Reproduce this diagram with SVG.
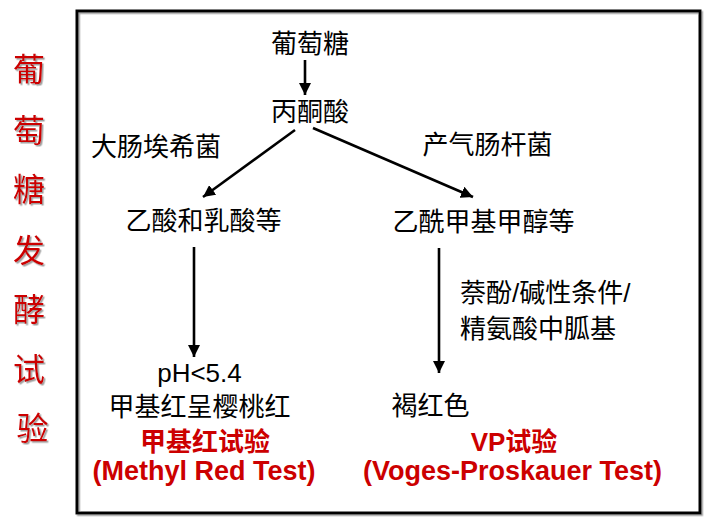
<svg xmlns="http://www.w3.org/2000/svg" width="724" height="524" viewBox="0 0 724 524">
  <defs>
    <style>
      .cn { font-family: "Noto Sans CJK SC", "Liberation Sans", sans-serif; font-size: 26px; fill: #000; }
      .lat { font-family: "Liberation Sans", "Noto Sans CJK SC", sans-serif; font-size: 26px; fill: #000; }
      .redcn { font-family: "Noto Sans CJK SC", "Liberation Sans", sans-serif; font-size: 26px; font-weight: bold; fill: #CC0000; }
      .redlat { font-family: "Liberation Sans", "Noto Sans CJK SC", sans-serif; font-size: 27px; font-weight: bold; fill: #CC0000; }
      .title { font-family: "Noto Sans CJK SC", sans-serif; font-size: 32px; fill: #CC0000; }
      .conn { stroke: #000; stroke-width: 2.6; fill: none; }
    </style>
    <marker id="arr" viewBox="0 0 10 10" refX="10" refY="5" markerWidth="12" markerHeight="12" markerUnits="userSpaceOnUse" orient="auto">
      <path d="M0,0 L10,5 L0,10 z" fill="#000"/>
    </marker>
    <filter id="sh" x="-20%" y="-20%" width="140%" height="140%">
      <feDropShadow dx="1.5" dy="1.5" stdDeviation="0.6" flood-color="#888" flood-opacity="0.8"/>
    </filter>
  </defs>
  <rect width="724" height="524" fill="#fff"/>

  <g id="frame">
    <rect x="77" y="11" width="623" height="502" fill="none" stroke="#000" stroke-width="3" filter="url(#sh)"/>
  </g>

  <g id="title">
    <text class="title" text-anchor="middle" filter="url(#sh)">
      <tspan x="32.5" y="81">葡</tspan>
      <tspan x="32.5" y="142">萄</tspan>
      <tspan x="32.5" y="201">糖</tspan>
      <tspan x="32.5" y="262">发</tspan>
      <tspan x="32.5" y="321">酵</tspan>
      <tspan x="32.5" y="381">试</tspan>
      <tspan x="32.5" y="440">验</tspan>
    </text>
  </g>

  <g id="connectors">
    <line class="conn" x1="305" y1="60" x2="305" y2="95" marker-end="url(#arr)"/>
    <line class="conn" x1="295" y1="130" x2="203" y2="197" marker-end="url(#arr)"/>
    <line class="conn" x1="313" y1="128" x2="473" y2="197" marker-end="url(#arr)"/>
    <line class="conn" x1="194" y1="247" x2="194" y2="357" marker-end="url(#arr)"/>
    <line class="conn" x1="439" y1="248" x2="439" y2="373" marker-end="url(#arr)"/>
  </g>

  <g id="glucose"><text class="cn" x="310" y="53" text-anchor="middle">葡萄糖</text></g>
  <g id="pyruvate"><text class="cn" x="310" y="121" text-anchor="middle">丙酮酸</text></g>
  <g id="ecoli"><text class="cn" x="156" y="156" text-anchor="middle">大肠埃希菌</text></g>
  <g id="aerogenes"><text class="cn" x="487.5" y="154" text-anchor="middle">产气肠杆菌</text></g>
  <g id="acids"><text class="cn" x="203.5" y="230" text-anchor="middle">乙酸和乳酸等</text></g>
  <g id="acetoin"><text class="cn" x="483.5" y="231" text-anchor="middle">乙酰甲基甲醇等</text></g>
  <g id="vp-condition">
    <text class="cn" x="460" y="302">萘酚<tspan class="lat">/</tspan>碱性条件<tspan class="lat">/</tspan></text>
    <text class="cn" x="460" y="338">精氨酸中胍基</text>
  </g>
  <g id="mr-result">
    <text class="lat" x="199.5" y="382" text-anchor="middle">pH&lt;5.4</text>
    <text class="cn" x="199.5" y="416" text-anchor="middle">甲基红呈樱桃红</text>
    <text class="redcn" x="205" y="451" text-anchor="middle">甲基红试验</text>
    <text class="redlat" x="204" y="480" text-anchor="middle">(Methyl Red Test)</text>
  </g>
  <g id="vp-result">
    <text class="cn" x="430.5" y="415" text-anchor="middle">褐红色</text>
    <text class="redcn" x="514" y="451" text-anchor="middle"><tspan class="redlat" style="font-size:26px">VP</tspan>试验</text>
    <text class="redlat" x="512.5" y="480" text-anchor="middle">(Voges-Proskauer Test)</text>
  </g>
</svg>
